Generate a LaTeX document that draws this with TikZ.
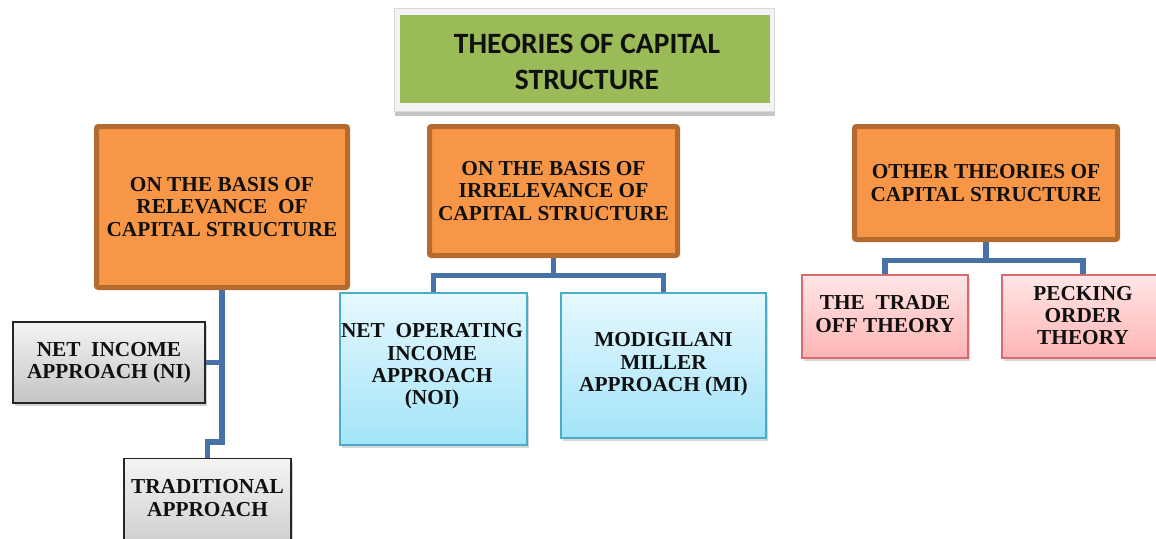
\documentclass[tikz,border=0pt]{standalone}
\usepackage{fontspec}
\setmainfont{Liberation Serif}
\newfontfamily\titlefont{Carlito}
\usetikzlibrary{shadows,backgrounds,calc}
\definecolor{orangefill}{HTML}{F79646}
\definecolor{orangeline}{HTML}{B56A30}
\definecolor{greenfill}{HTML}{9BBB59}
\definecolor{connblue}{HTML}{4672A8}
\definecolor{cyantop}{HTML}{E6F8FE}
\definecolor{cyanbot}{HTML}{A3E4F9}
\definecolor{cyanline}{HTML}{4BACC6}
\definecolor{pinktop}{HTML}{FFE6E6}
\definecolor{pinkbot}{HTML}{FFB4B4}
\definecolor{pinkline}{HTML}{D56B6E}
\definecolor{graytop}{HTML}{F4F4F4}
\definecolor{graybot}{HTML}{C4C4C4}
\definecolor{textdark}{HTML}{101010}
\tikzset{
  boxtext/.style={font=\bfseries\fontsize{21.3}{22.4}\selectfont, text=textdark, align=center, inner sep=0pt},
  orangebox/.style={boxtext, rectangle, rounded corners=2pt, fill=orangefill, draw=orangeline, line width=5pt},
  graybox/.style={boxtext, rectangle, top color=graytop, bottom color=graybot, draw=black!85, line width=1.3pt,
    drop shadow={shadow xshift=2pt, shadow yshift=-3pt, opacity=.35}},
  cyanbox/.style={boxtext, rectangle, top color=cyantop, bottom color=cyanbot, draw=cyanline, line width=1.5pt,
    drop shadow={shadow xshift=2pt, shadow yshift=-3pt, opacity=.3}},
  pinkbox/.style={boxtext, rectangle, top color=pinktop, bottom color=pinkbot, draw=pinkline, line width=1.5pt,
    drop shadow={shadow xshift=2pt, shadow yshift=-3pt, opacity=.3}},
  conn/.style={draw=connblue, line width=5.5pt},
  plaintext/.style={boxtext}
}
\begin{document}
\begin{tikzpicture}[x=1pt,y=-1pt]
\useasboundingbox (0,0) rectangle (1156,538);
\clip (0,0) rectangle (1156,538);
% title
\node[rectangle, minimum width=380, minimum height=103, fill=graytop, draw=black!15, line width=1pt,
  drop shadow={shadow xshift=1pt, shadow yshift=-4pt, opacity=.45}] (titleframe) at (584,60) {};
\node[rectangle, minimum width=370, minimum height=88, fill=greenfill, inner sep=0pt] (title) at (585,59) {};
\node[font=\titlefont\bfseries\fontsize{29.5}{36}\selectfont, text=textdark, align=center, inner sep=0pt]
  (titletext) at (587,62) {THEORIES OF CAPITAL\\STRUCTURE};
% level 1
\node[orangebox, minimum width=251, minimum height=161] (rel) at (222,207)
  {ON THE BASIS OF\\RELEVANCE \ OF\\CAPITAL STRUCTURE};
\node[orangebox, minimum width=248, minimum height=129] (irr) at (553.5,191)
  {ON THE BASIS OF\\IRRELEVANCE OF\\CAPITAL STRUCTURE};
\node[orangebox, minimum width=263, minimum height=113] (oth) at (986,183)
  {OTHER THEORIES OF\\CAPITAL STRUCTURE};
% level 2
\node[graybox, minimum width=192, minimum height=81] (ni) at (109,362.5)
  {NET \ INCOME\\APPROACH (NI)};
\node[graybox, minimum width=167, minimum height=110, anchor=north] (trad) at (207.5,458) {};
\node[plaintext] (tradtext) at (207.5,498) {TRADITIONAL\\APPROACH};
\node[cyanbox, minimum width=187, minimum height=152] (noi) at (433.5,369) {};
\node[plaintext] (noitext) at (432,366.5) {NET \ OPERATING\\INCOME\\APPROACH\\(NOI)};
\node[cyanbox, minimum width=205, minimum height=145] (mm) at (663.5,365.5) {};
\node[plaintext] (mmtext) at (663.5,364.5) {MODIGILANI\\MILLER\\APPROACH (MI)};
\node[pinkbox, minimum width=166, minimum height=83] (trade) at (885,316.5) {};
\node[plaintext] (tradetext) at (885,314) {THE \ TRADE\\OFF THEORY};
\node[pinkbox, minimum width=162, minimum height=83] (peck) at (1083,316.5) {};
\node[plaintext] (pecktext) at (1083,315.5) {PECKING\\ORDER\\THEORY};
% connectors
\begin{scope}[on background layer]
\fill[white] (0,0) rectangle (1156,538);
\draw[conn] (rel.south) -- ($(rel.south |- 0,442)$) -| (trad.north);
\draw[conn] (ni.east) -- (ni.east -| rel.south);
\draw[conn] (irr.south) -- ++(0,17.5) -| (noi.north);
\draw[conn] (irr.south) ++(0,17.5) -| (mm.north);
\draw[conn] (oth.south) -- ++(0,18.5) -| (trade.north);
\draw[conn] (oth.south) ++(0,18.5) -| (peck.north);
\end{scope}
\end{tikzpicture}
\end{document}
